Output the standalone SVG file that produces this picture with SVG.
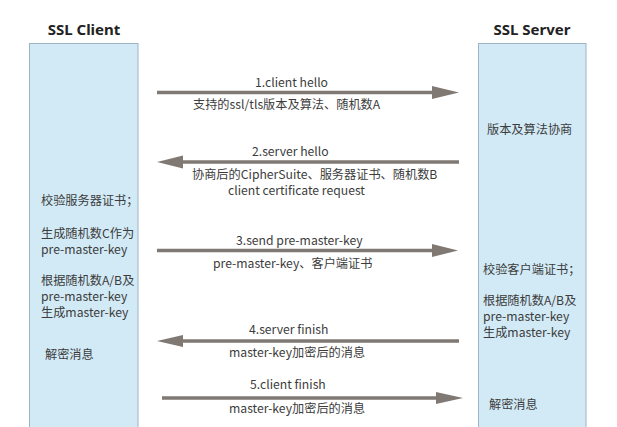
<svg xmlns="http://www.w3.org/2000/svg" width="617" height="427" viewBox="0 0 617 427">
<style>
.box{fill:#d2eaf6;stroke:#9fb4c2;stroke-width:1}
.title{font-family:"Noto Sans","Noto Sans CJK SC",sans-serif;font-weight:bold;font-size:15px;fill:#222;text-anchor:middle}
.t{font-family:"Noto Sans CJK SC","Noto Sans",sans-serif;font-size:12.2px;fill:#3c3c3c}
.ln{stroke:#807873;stroke-width:3.5;fill:none}
.hd{fill:#807873}
</style>
<rect width="617" height="427" fill="#ffffff"/>
<g id="client">
<text class="title" x="84" y="35">SSL Client</text>
<rect class="box" x="29.5" y="43.5" width="108.5" height="400"/>
<text class="t" x="41" y="205">校验服务器证书；</text>
<text class="t" x="41" y="238">生成随机数C作为</text>
<text class="t" x="41" y="254">pre-master-key</text>
<text class="t" x="41" y="285">根据随机数A/B及</text>
<text class="t" x="41" y="301">pre-master-key</text>
<text class="t" x="41" y="317">生成master-key</text>
<text class="t" x="45" y="359">解密消息</text>
</g>
<g id="server">
<text class="title" x="532" y="35">SSL Server</text>
<rect class="box" x="478.5" y="43.5" width="107.5" height="400"/>
<text class="t" x="487" y="134">版本及算法协商</text>
<text class="t" x="483" y="274">校验客户端证书；</text>
<text class="t" x="483" y="305">根据随机数A/B及</text>
<text class="t" x="483" y="321">pre-master-key</text>
<text class="t" x="483" y="337">生成master-key</text>
<text class="t" x="489" y="409">解密消息</text>
</g>
<g id="connectors">
<line class="ln" x1="157" y1="92.5" x2="434" y2="92.5"/>
<polygon class="hd" points="432,86 459,92.5 432,99"/>
<line class="ln" x1="181" y1="162" x2="459" y2="162"/>
<polygon class="hd" points="183,155.5 157,162 183,168.5"/>
<line class="ln" x1="157" y1="250.5" x2="434" y2="250.5"/>
<polygon class="hd" points="432,244 458,250.5 432,257"/>
<line class="ln" x1="181" y1="341" x2="459" y2="341"/>
<polygon class="hd" points="183,335 157,341 183,347"/>
<line class="ln" x1="162" y1="398" x2="438" y2="398"/>
<polygon class="hd" points="436,392 463,398 436,404"/>
</g>
<g id="labels">
<text class="t" x="255" y="87">1.client hello</text>
<text class="t" x="193" y="109">支持的ssl/tls版本及算法、随机数A</text>
<text class="t" x="252" y="156">2.server hello</text>
<text class="t" x="192" y="179">协商后的CipherSuite、服务器证书、随机数B</text>
<text class="t" x="228" y="195">client certificate request</text>
<text class="t" x="236" y="245">3.send pre-master-key</text>
<text class="t" x="213" y="268">pre-master-key、客户端证书</text>
<text class="t" x="249" y="334">4.server finish</text>
<text class="t" x="229" y="357">master-key加密后的消息</text>
<text class="t" x="250" y="389">5.client finish</text>
<text class="t" x="229" y="413">master-key加密后的消息</text>
</g>
</svg>
